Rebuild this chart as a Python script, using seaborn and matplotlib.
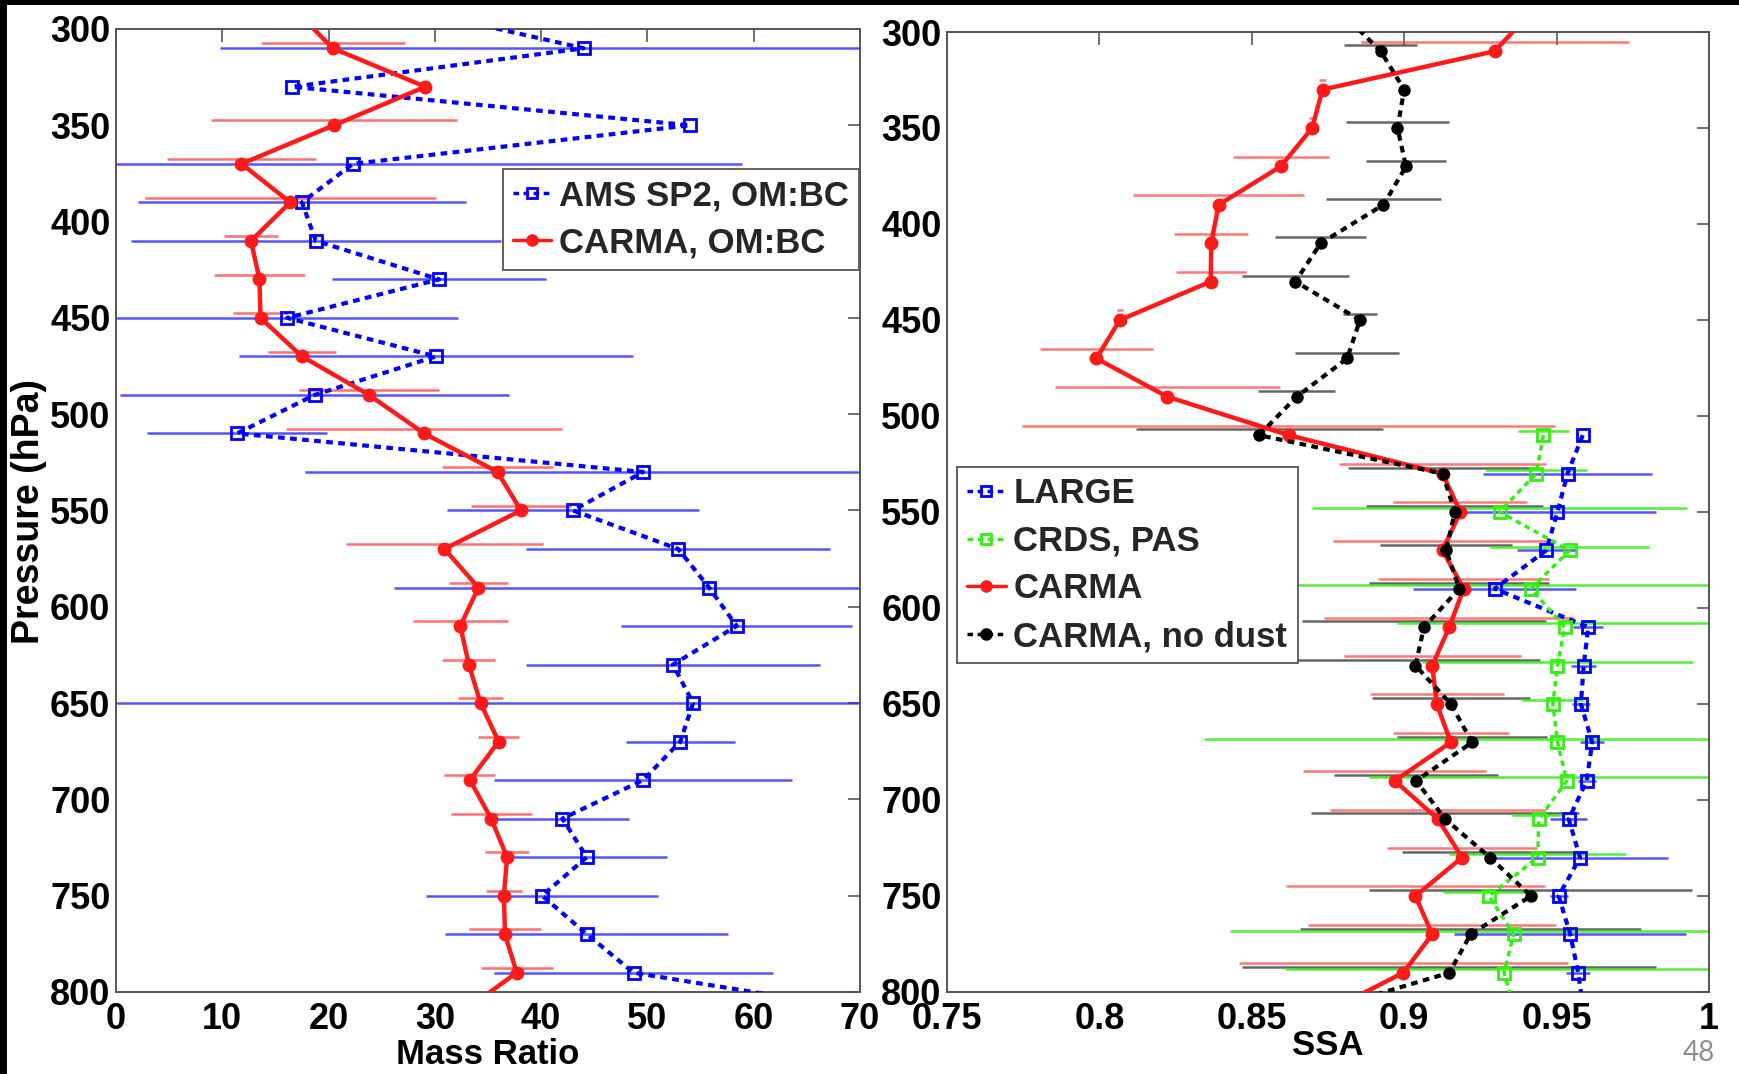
import numpy as np
import pandas as pd
import matplotlib
matplotlib.use("Agg")
import matplotlib.pyplot as plt
import seaborn as sns
from matplotlib.lines import Line2D
from matplotlib.patches import Rectangle
from matplotlib.ticker import FormatStrFormatter

# ---------------------------------------------------------------- data
# pressure bin centres (hPa)
pressure = [310, 330, 350, 370, 390, 410, 430, 450, 470, 490, 510, 530, 550,
            570, 590, 610, 630, 650, 670, 690, 710, 730, 750, 770, 790]
pressure_low = pressure[10:]          # levels where LARGE / CRDS data exist
edge_top, edge_bottom = 290, 810      # neighbouring bins just outside the plotted range

# Mass ratio OM:BC
ams_ratio = [44.0, 16.6, 54.0, 22.3, 17.5, 18.8, 30.4, 16.1, 30.1, 18.7, 11.4, 49.6, 43.0,
             52.9, 55.8, 58.4, 52.4, 54.3, 53.1, 49.6, 42.0, 44.3, 40.1, 44.3, 48.7]
ams_err = [34.2, 0.0, 0.0, 36.6, 15.4, 17.4, 10.1, 16.1, 18.5, 18.3, 8.5, 31.8, 11.9,
           14.3, 29.6, 10.9, 13.8, 60.0, 5.1, 14.0, 6.3, 7.5, 10.9, 13.3, 13.1]
ams_edges = (28.0, 71.1)

carma_ratio = [20.4, 29.1, 20.5, 11.8, 16.4, 12.7, 13.5, 13.6, 17.5, 23.8, 29.0, 35.9, 38.1,
               30.9, 34.1, 32.4, 33.2, 34.3, 36.0, 33.3, 35.3, 36.8, 36.5, 36.6, 37.7]
carma_ratio_err = [6.8, 0.0, 11.6, 7.0, 13.7, 2.5, 4.3, 2.6, 3.2, 6.6, 13.0, 5.2, 4.7,
                   9.3, 2.8, 4.5, 2.5, 2.1, 1.9, 2.4, 3.8, 2.1, 1.7, 3.4, 3.4]
carma_ratio_edges = (16.8, 32.7)

# Single scattering albedo
large_ssa = [0.9586, 0.9536, 0.9503, 0.9466, 0.9297, 0.9604, 0.9589, 0.9580,
             0.9617, 0.9599, 0.9540, 0.9577, 0.9507, 0.9545, 0.9571]
large_err = [0.0, 0.0276, 0.0325, 0.0097, 0.0267, 0.005, 0.004, 0.003,
             0.004, 0.003, 0.006, 0.029, 0.003, 0.038, 0.004]
large_edge_bottom = 0.9589

crds_ssa = [0.9457, 0.9433, 0.9313, 0.9543, 0.9416, 0.9527, 0.9503, 0.9488,
            0.9503, 0.9534, 0.9442, 0.9438, 0.9278, 0.9359, 0.9328]
crds_err = [0.0085, 0.0168, 0.0616, 0.026, 0.078, 0.055, 0.0445, 0.010,
            0.116, 0.065, 0.0087, 0.029, 0.015, 0.093, 0.072]
crds_edge_bottom = 0.9364

carma_ssa = [0.9297, 0.8732, 0.8698, 0.8595, 0.8391, 0.8367, 0.8365, 0.8067, 0.7990,
             0.8223, 0.8621, 0.9126, 0.9184, 0.9126, 0.9195, 0.9148, 0.9092, 0.9107,
             0.9153, 0.8969, 0.9111, 0.9190, 0.9037, 0.9092, 0.8997]
carma_ssa_err = [0.044, 0.001, 0.001, 0.0157, 0.028, 0.0122, 0.0115, 0.001, 0.0186,
                 0.037, 0.0875, 0.034, 0.022, 0.036, 0.028, 0.041, 0.029, 0.022,
                 0.019, 0.030, 0.0356, 0.0245, 0.0425, 0.0407, 0.054]
carma_ssa_edges = (0.9415, 0.875)

nodust_ssa = [0.8923, 0.9000, 0.8978, 0.9006, 0.8932, 0.8726, 0.8643, 0.8855, 0.8813,
              0.8647, 0.8524, 0.9126, 0.9166, 0.9138, 0.9181, 0.9065, 0.9037, 0.9153,
              0.9223, 0.9039, 0.9135, 0.9282, 0.9416, 0.9218, 0.9148]
nodust_err = [0.012, 0.0, 0.017, 0.013, 0.019, 0.015, 0.0175, 0.0057, 0.017,
              0.0127, 0.0405, 0.031, 0.029, 0.0217, 0.0295, 0.040, 0.041, 0.026,
              0.0245, 0.027, 0.044, 0.029, 0.053, 0.056, 0.068]
nodust_edges = (0.8795, 0.8724)

ratio_ticks = [0, 10, 20, 30, 40, 50, 60, 70]
ssa_ticks = [0.75, 0.8, 0.85, 0.9, 0.95, 1.0]
p_ticks = [300, 350, 400, 450, 500, 550, 600, 650, 700, 750, 800]

# ---------------------------------------------------------------- style
sns.set_theme(style="white")
plt.rcParams["font.family"] = ["Liberation Sans", "DejaVu Sans"]
plt.rcParams["font.weight"] = "bold"
plt.rcParams["axes.labelweight"] = "bold"

BLUE = "#0000ff"
RED = "#ff1a1a"
GREEN = "#33ee11"
BLACK = "#000000"
DOT = (0, (1.6, 1.3))

fig = plt.figure(figsize=(17.39, 10.74), dpi=100)
fig.patch.set_facecolor("white")
ax1 = fig.add_axes([0.0667, 0.0764, 0.4278, 0.8966])
ax2 = fig.add_axes([0.5446, 0.0764, 0.4381, 0.8938])


def profile(ax, x, p, color, ls, lw, marker, ms, mfc, mew, z):
    df = pd.DataFrame({"value": x, "pressure": p})
    sns.lineplot(data=df, x="value", y="pressure", sort=False, estimator=None,
                 color=color, linestyle=ls, linewidth=lw, marker=marker,
                 markersize=ms, markerfacecolor=mfc, markeredgecolor=color,
                 markeredgewidth=mew, ax=ax, zorder=z, legend=False)


def bars(ax, x, p, err, color, offset, alpha, lw=1.8):
    ax.errorbar(x, np.asarray(p, dtype=float) + offset, xerr=err, fmt="none",
                ecolor=color, elinewidth=lw, capsize=0, alpha=alpha, zorder=1)


def with_edges(vals, edges):
    top, bottom = edges
    return [top] + list(vals) + [bottom]


# ---------------------------------------------------------------- left panel
bars(ax1, carma_ratio, pressure, carma_ratio_err, "#ff4040", -2.5, 0.75)
bars(ax1, ams_ratio, pressure, ams_err, "#2a2aff", 0.0, 0.8)

profile(ax1, with_edges(ams_ratio, ams_edges),
        [edge_top] + pressure + [edge_bottom],
        BLUE, DOT, 3.0, "s", 8, "none", 2.0, 3)
profile(ax1, with_edges(carma_ratio, carma_ratio_edges),
        [edge_top] + pressure + [edge_bottom],
        RED, "-", 3.2, "o", 9, RED, 1.0, 4)

ax1.set_xlim(0, 70)
ax1.set_xticks(ratio_ticks)

# ---------------------------------------------------------------- right panel
bars(ax2, carma_ssa, pressure, carma_ssa_err, "#ff4040", -5.0, 0.7)
bars(ax2, nodust_ssa, pressure, nodust_err, "#333333", -3.0, 0.75)
bars(ax2, crds_ssa, pressure_low, crds_err, GREEN, -2.0, 0.85)
bars(ax2, large_ssa, pressure_low, large_err, "#2a2aff", 0.0, 0.8)

profile(ax2, list(large_ssa) + [large_edge_bottom], pressure_low + [edge_bottom],
        BLUE, DOT, 3.0, "s", 8, "none", 2.0, 3)
profile(ax2, list(crds_ssa) + [crds_edge_bottom], pressure_low + [edge_bottom],
        GREEN, DOT, 2.5, "s", 8, "none", 2.0, 3)
profile(ax2, with_edges(carma_ssa, carma_ssa_edges),
        [edge_top] + pressure + [edge_bottom],
        RED, "-", 3.2, "o", 9, RED, 1.0, 4)
profile(ax2, with_edges(nodust_ssa, nodust_edges),
        [edge_top] + pressure + [edge_bottom],
        BLACK, DOT, 3.0, "o", 8, BLACK, 1.0, 4)

ax2.set_xlim(0.75, 1.0)
ax2.set_xticks(ssa_ticks)
ax2.xaxis.set_major_formatter(FormatStrFormatter("%g"))

# ---------------------------------------------------------------- shared axis styling
for ax in (ax1, ax2):
    ax.set_ylim(800, 300)
    ax.set_yticks(p_ticks)
    ax.set_facecolor("white")
    ax.grid(False)
    for sp in ax.spines.values():
        sp.set_visible(True)
        sp.set_color("#555555")
        sp.set_linewidth(1.4)
    ax.tick_params(axis="both", which="major", direction="in", length=9,
                   width=1.3, color="#666666", top=True, right=True,
                   labelsize=26, labelcolor="black")
    ax.tick_params(axis="x", pad=7)
    ax.tick_params(axis="y", pad=4)
    for lab in ax.get_xticklabels() + ax.get_yticklabels():
        lab.set_fontweight("bold")
    ax.set_ylabel("")

ax1.set_xlabel("Mass Ratio", fontsize=25, fontweight="bold", color="black")
ax1.xaxis.set_label_coords(0.5, -0.048)
ax2.set_xlabel("SSA", fontsize=25, fontweight="bold", color="black")
ax2.xaxis.set_label_coords(0.5, -0.039)
fig.text(29 / 1739, 1 - 511 / 1074, "Pressure (hPa)", rotation=90,
         ha="center", va="center", fontsize=27, fontweight="bold", color="black")

# ---------------------------------------------------------------- legends
def handle(color, ls, lw, marker, ms, mfc):
    return Line2D([], [], color=color, linestyle=ls, linewidth=lw, marker=marker,
                  markersize=ms, markerfacecolor=mfc, markeredgecolor=color,
                  markeredgewidth=2.0)


leg_kw = dict(frameon=True, fancybox=False, framealpha=1,
              edgecolor="#555555", handlelength=1.1, handletextpad=0.22,
              borderpad=0.3, labelspacing=0.42, borderaxespad=0,
              prop={"weight": "bold", "size": 25})

leg1 = ax1.legend([handle(BLUE, DOT, 2.5, "s", 7, "none"),
                   handle(RED, "-", 2.5, "o", 7, RED)],
                  ["AMS SP2, OM:BC", "CARMA, OM:BC"],
                  loc="upper right", bbox_to_anchor=(0.999, 0.855), **leg_kw)
leg1.get_frame().set_linewidth(1.3)

leg2 = ax2.legend([handle(BLUE, DOT, 2.5, "s", 7, "none"),
                   handle(GREEN, DOT, 2.5, "s", 7, "none"),
                   handle(RED, "-", 2.5, "o", 7, RED),
                   handle(BLACK, DOT, 2.5, "o", 7, BLACK)],
                  ["LARGE", "CRDS, PAS", "CARMA", "CARMA, no dust"],
                  loc="upper left", bbox_to_anchor=(0.013, 0.547), **leg_kw)
leg2.get_frame().set_linewidth(1.3)
for leg in (leg1, leg2):
    leg.set_zorder(10)

# ---------------------------------------------------------------- page frame and slide number
fig.patches.append(Rectangle((0, 1 - 5 / 1074), 1, 5 / 1074, transform=fig.transFigure,
                             facecolor="black", edgecolor="none", zorder=0))
fig.patches.append(Rectangle((0, 0), 7 / 1739, 1, transform=fig.transFigure,
                             facecolor="black", edgecolor="none", zorder=0))
fig.text(1715 / 1739, 1 - 1053 / 1074, "48", ha="right", va="center",
         fontsize=20, color="#8c8c8c", fontweight="normal",
         family=["Lato", "DejaVu Sans"])

fig.savefig("out.png", dpi=100, facecolor="white")
